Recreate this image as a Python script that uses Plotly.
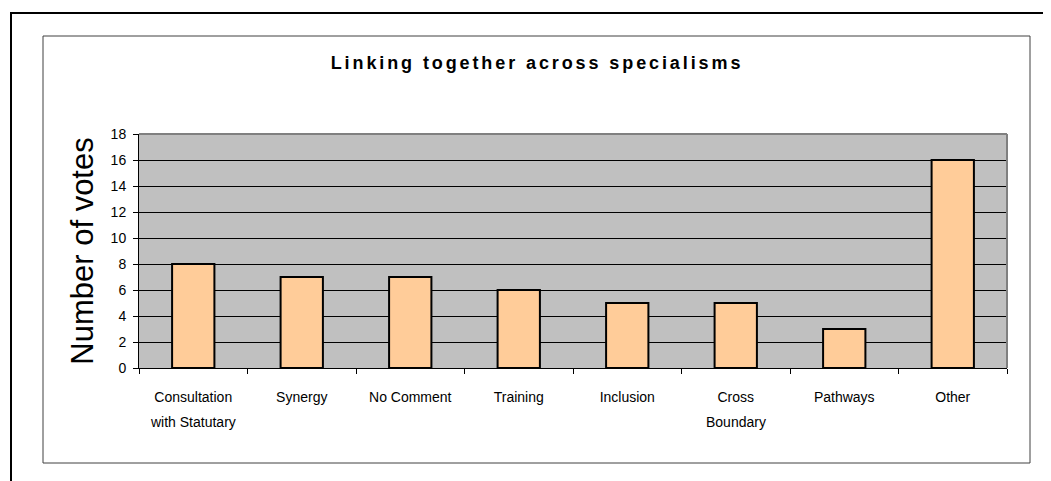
import plotly.graph_objects as go

# data
categorias = ["Consultation", "Synergy", "No Comment", "Training",
              "Inclusion", "Cross", "Pathways", "Other"]
segunda_linea = ["with Statutary", "", "", "", "", "Boundary", "", ""]
votos = [8, 7, 7, 6, 5, 5, 3, 16]
y_ticks = list(range(0, 19, 2))

OFF = 8  # margen del body de la pagina
W, H = 1051 - OFF, 481 - OFF
L, R, T, B = 139 - OFF, 44, 134 - OFF, 113
pw, ph = W - L - R, H - T - B


def px_x(x):
    # pixel de pantalla -> paper x
    return (x - OFF - L) / pw


def px_y(y):
    # pixel de pantalla -> paper y
    return (H - B - (y - OFF)) / ph


fig = go.Figure(go.Bar(
    x=categorias,
    y=votos,
    marker=dict(color="#FFCC99", line=dict(color="black", width=2)),
    showlegend=False,
    hoverinfo="x+y",
))

# segunda linea de etiquetas
for cat, txt in zip(categorias, segunda_linea):
    if txt:
        fig.add_annotation(x=cat, y=px_y(422), xref="x", yref="paper",
                           yanchor="middle", text=txt, showarrow=False,
                           font=dict(family="Arial, Liberation Sans", size=14, color="black"))

# bordes del area de trazado (arriba y derecha en gris)
fig.add_shape(type="line", xref="paper", yref="paper", x0=0, x1=1, y0=1, y1=1,
              line=dict(color="#808080", width=2), layer="above")
fig.add_shape(type="line", xref="paper", yref="paper", x0=1, x1=1, y0=0, y1=1,
              line=dict(color="#808080", width=2), layer="above")

# marco del grafico
fig.add_shape(type="rect", xref="paper", yref="paper",
              x0=px_x(43), x1=px_x(1030), y0=px_y(463), y1=px_y(36),
              line=dict(color="#404040", width=1))
# marco exterior
fig.add_shape(type="rect", xref="paper", yref="paper",
              x0=px_x(11), x1=px_x(1070), y0=px_y(500), y1=px_y(13),
              line=dict(color="black", width=2))

fig.update_layout(
    width=W, height=H,
    margin=dict(l=L, r=R, t=T, b=B),
    paper_bgcolor="white",
    plot_bgcolor="#C0C0C0",
    bargap=0.61,
    font=dict(family="Arial, Liberation Sans", size=14, color="black"),
    title=dict(text="<span style='letter-spacing:2.9px'><b>Linking together across specialisms</b></span>",
               x=px_x(537), xref="paper", xanchor="center",
               y=1 - (63 - OFF) / H, yanchor="middle",
               font=dict(size=18, color="black")),
)

fig.update_xaxes(
    showline=True, linecolor="black", linewidth=1,
    ticks="outside", tickson="boundaries", ticklen=5, tickcolor="black",
    showgrid=False,
    tickfont=dict(size=14),
    ticklabelstandoff=16,
)

fig.update_yaxes(
    range=[0, 18], tickvals=y_ticks,
    showline=True, linecolor="black", linewidth=1,
    ticks="outside", ticklen=5, tickcolor="black",
    showgrid=True, gridcolor="black", gridwidth=1,
    zeroline=False,
    tickfont=dict(size=14),
    ticklabelstandoff=4,
    title=dict(text="Number of votes", font=dict(size=31), standoff=7),
)

fig.write_html("out.html")
